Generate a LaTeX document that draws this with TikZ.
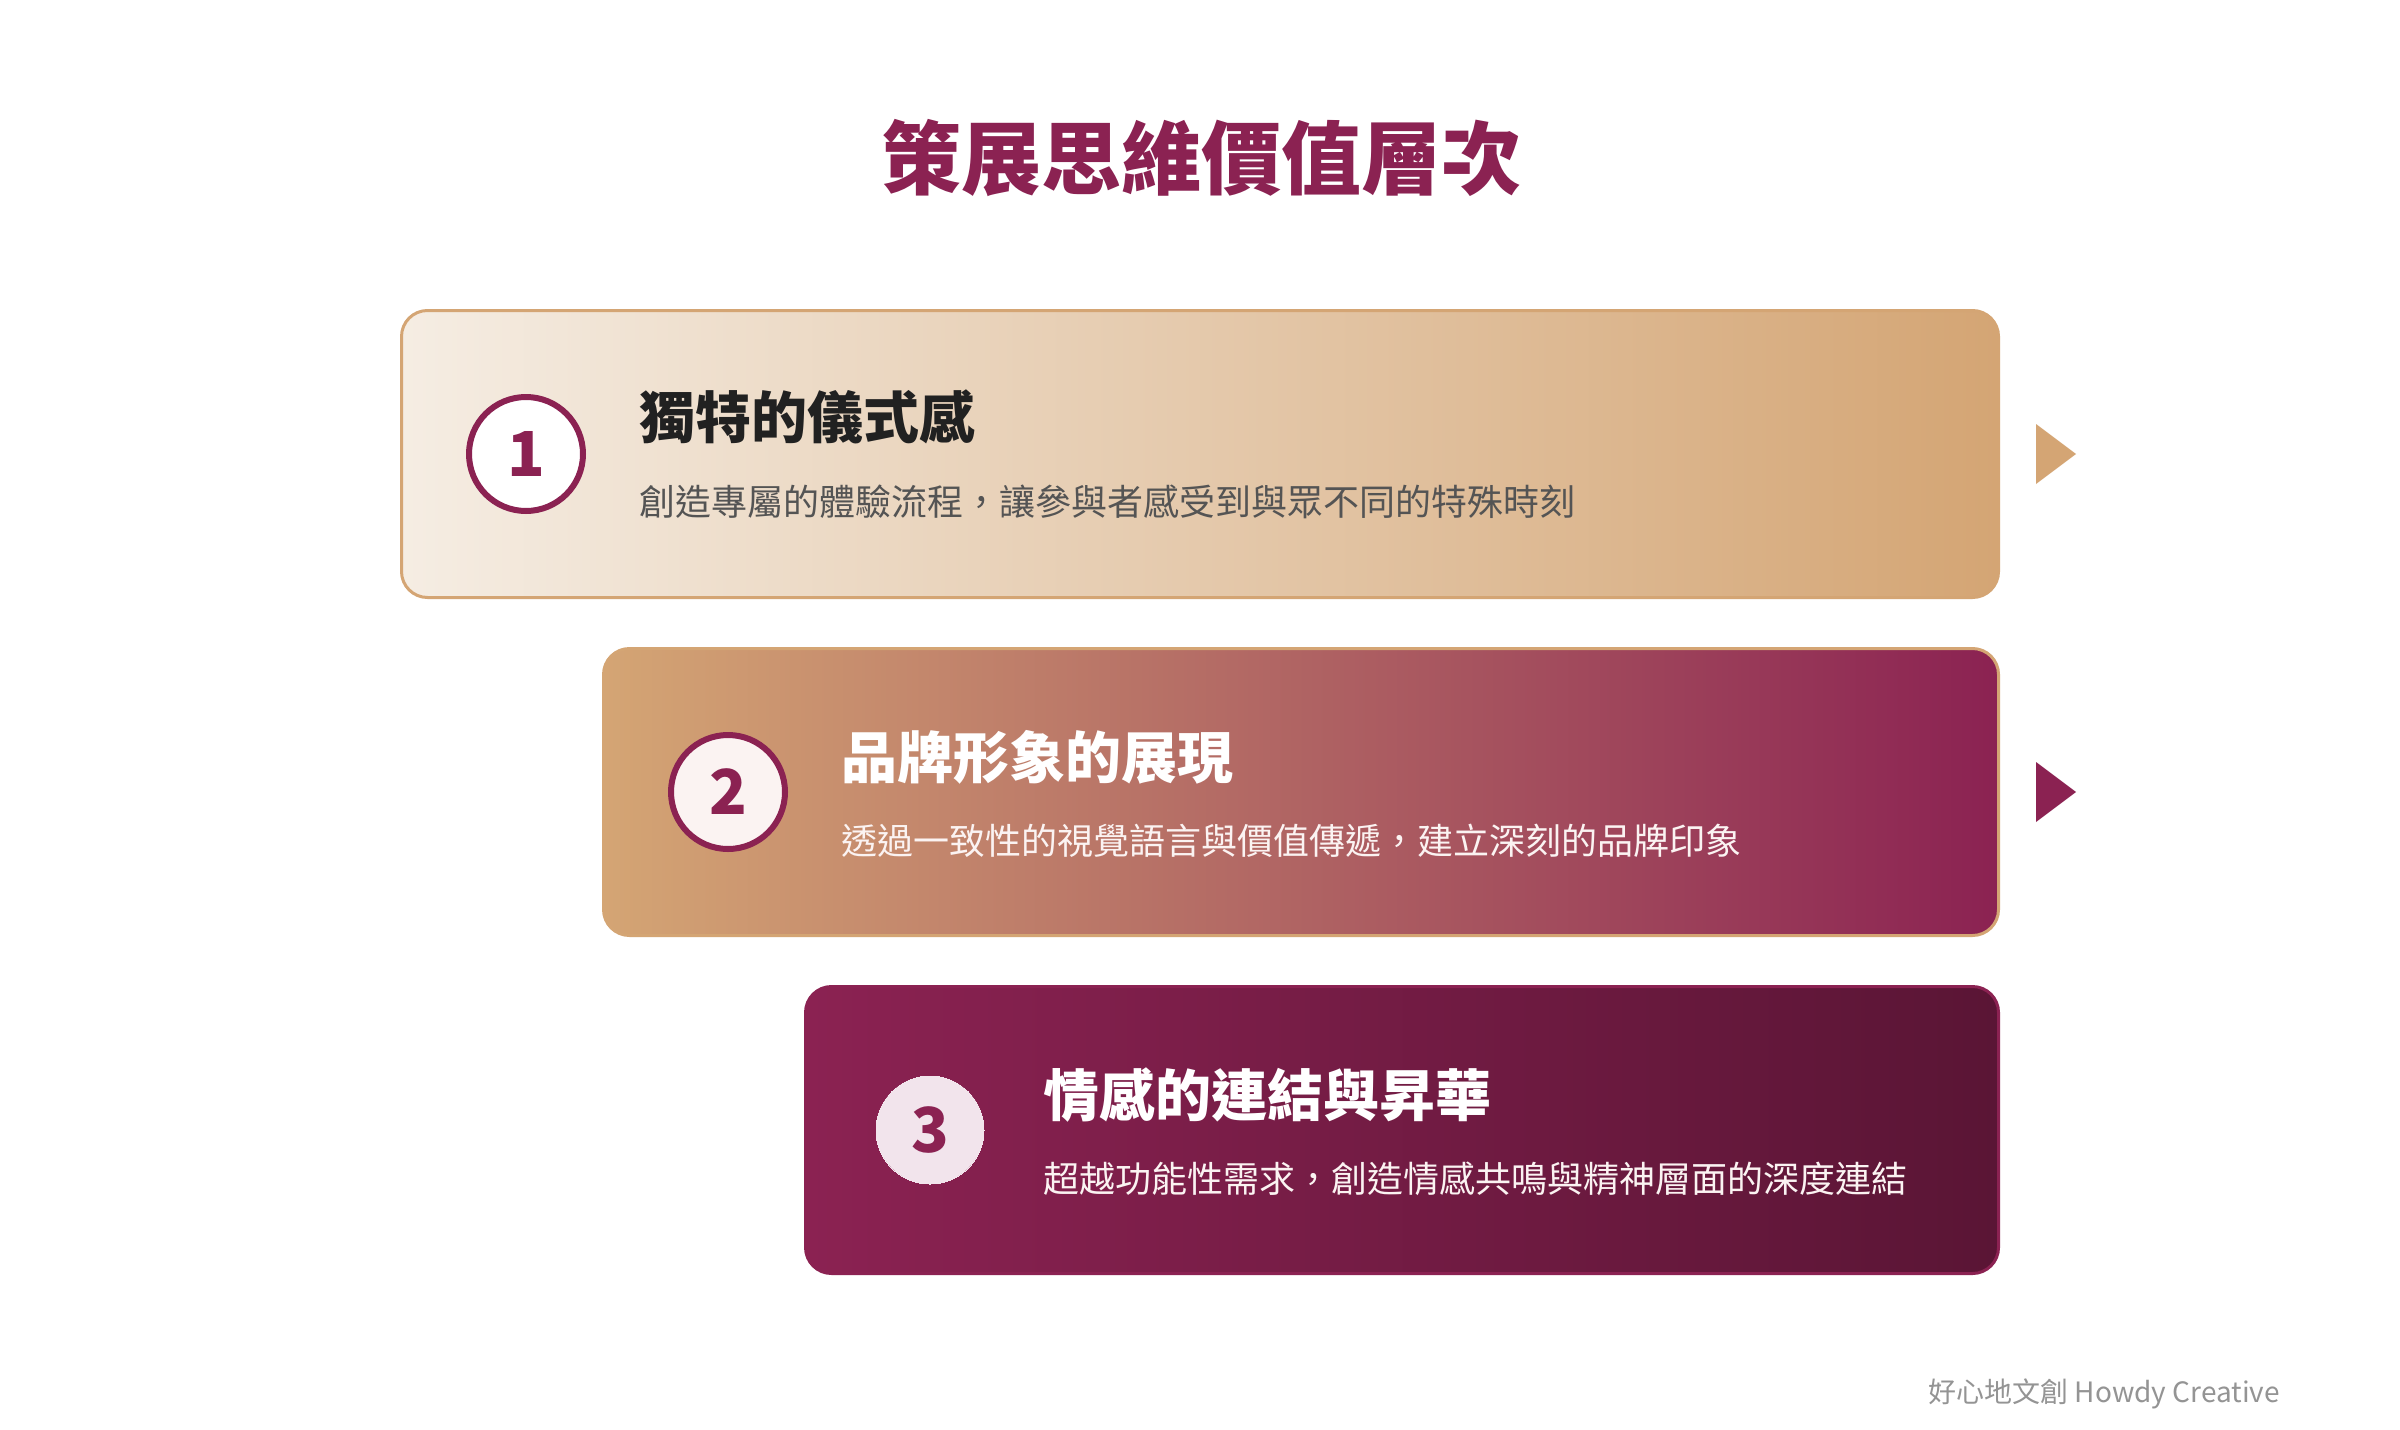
\documentclass[tikz,border=0pt]{standalone}
\usepackage{fontspec}
\setmainfont{Noto Sans CJK TC}
\usetikzlibrary{positioning}

\definecolor{brandplum}{HTML}{8B2252}
\definecolor{brandtan}{HTML}{D4A574}
\definecolor{creamlight}{HTML}{F5EDE3}
\definecolor{deepplum}{HTML}{5A1535}
\definecolor{discpink}{HTML}{F2E4EC}
\definecolor{softwhite}{HTML}{FBF3F2}

\tikzset{
  levelbox/.style={rounded corners=26pt, line width=3pt, minimum height=287pt,
    anchor=north east, inner sep=0pt},
  numdisc/.style={circle, minimum size=114pt, inner sep=0pt, line width=6pt,
    text=brandplum, font=\bfseries\fontsize{62}{62}\selectfont},
  headtext/.style={anchor=west, inner sep=0pt, font=\bfseries\fontsize{56}{56}\selectfont},
  desctext/.style={anchor=west, inner sep=0pt, font=\fontsize{36}{36}\selectfont},
}

\begin{document}
\begin{tikzpicture}[x=1pt,y=-1pt]
 \useasboundingbox[fill=white] (0,0) rectangle (2400,1429);
 % title
 \node[font=\bfseries\fontsize{80}{80}\selectfont, text=brandplum] (title) at (1201,158) {策展思維價值層次};
 % level 1
 \node[levelbox, minimum width=1597pt, draw=brandtan, left color=creamlight, right color=brandtan] (box1) at (2000,309) {};
 \node[numdisc, draw=brandplum, fill=white] (num1) at ([xshift=126pt]box1.west) {1};
 \node[headtext, text=black!87] (head1) at ([xshift=239pt,yshift=37pt]box1.west) {獨特的儀式感};
 \node[desctext, text=black!67] (desc1) at ([xshift=239pt,yshift=-48pt]box1.west) {創造專屬的體驗流程，讓參與者感受到與眾不同的特殊時刻};
 \fill[brandtan] ([xshift=36pt,yshift=-30pt]box1.east) -- ([xshift=36pt,yshift=30pt]box1.east) -- ([xshift=76pt]box1.east) -- cycle;
 % level 2
 \node[levelbox, minimum width=1395pt, draw=brandtan, left color=brandtan, right color=brandplum] (box2) at (2000,647) {};
 \node[numdisc, draw=brandplum, fill=softwhite] (num2) at ([xshift=126pt]box2.west) {2};
 \node[headtext, text=white] (head2) at ([xshift=239pt,yshift=35pt]box2.west) {品牌形象的展現};
 \node[desctext, text=softwhite] (desc2) at ([xshift=239pt,yshift=-49pt]box2.west) {透過一致性的視覺語言與價值傳遞，建立深刻的品牌印象};
 \fill[brandplum] ([xshift=36pt,yshift=-30pt]box2.east) -- ([xshift=36pt,yshift=30pt]box2.east) -- ([xshift=76pt]box2.east) -- cycle;
 % level 3
 \node[levelbox, minimum width=1193pt, draw=brandplum, left color=brandplum, right color=deepplum] (box3) at (2000,985) {};
 \node[numdisc, draw=discpink, fill=discpink, minimum size=108pt, line width=0pt] (num3) at ([xshift=126pt]box3.west) {3};
 \node[headtext, text=white] (head3) at ([xshift=239pt,yshift=35pt]box3.west) {情感的連結與昇華};
 \node[desctext, text=softwhite] (desc3) at ([xshift=239pt,yshift=-49pt]box3.west) {超越功能性需求，創造情感共鳴與精神層面的深度連結};
 % footer
 \node[anchor=east, inner sep=0pt, text=black!42, font=\fontsize{28}{28}\selectfont] (brand) at (2280,1394) {好心地文創 Howdy Creative};
\end{tikzpicture}
\end{document}
